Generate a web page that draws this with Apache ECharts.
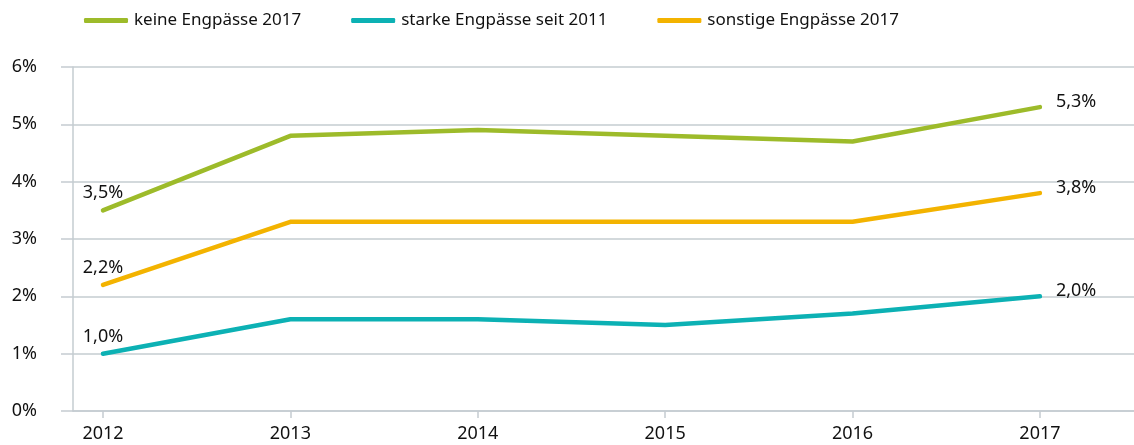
<!DOCTYPE html>
<html>
<head>
<meta charset="utf-8">
<script src="https://cdn.jsdelivr.net/npm/echarts@6/dist/echarts.min.js"></script>
<style>
  html, body { margin: 0; padding: 0; background: #fff; }
  #chart { width: 1134px; height: 445px; }
</style>
</head>
<body>
<div id="chart"></div>
<script>
var years = [2012, 2013, 2014, 2015, 2016, 2017];
var keine = [3.5, 4.8, 4.9, 4.8, 4.7, 5.3];
var starke = [1.0, 1.6, 1.6, 1.5, 1.7, 2.0];
var sonstige = [2.2, 3.3, 3.3, 3.3, 3.3, 3.8];
var seriesNames = ['keine Engpässe 2017', 'starke Engpässe seit 2011', 'sonstige Engpässe 2017'];
var colors = ['#9dbb2a', '#0cb1b4', '#f3b300'];

var font = 'Noto Sans';

function pairs(vals) {
    return vals.map(function (v, i) { return [years[i], v]; });
}

function fmt(v) {
    return v.toFixed(1).replace('.', ',') + '%';
}

function makeSeries(name, vals, color) {
    var data = pairs(vals).map(function (p, i) {
        var item = { value: p };
        if (i === 0) {
            item.label = { show: true, position: 'top', distance: 8 };
        } else if (i === vals.length - 1) {
            item.label = { show: true, position: 'right', distance: 16, offset: [0, -5] };
        }
        return item;
    });
    return {
        name: name,
        type: 'line',
        data: data,
        symbol: 'circle',
        symbolSize: 0,
        showAllSymbol: true,
        color: color,
        itemStyle: { color: color },
        lineStyle: { width: 4.5, color: color, cap: 'round' },
        label: {
            show: false,
            color: '#111',
            fontFamily: font,
            fontSize: 18,
            formatter: function (p) { return fmt(p.value[1]); }
        },
        emphasis: { disabled: true }
    };
}

var myChart = echarts.init(document.getElementById('chart'));
var option = {
    animation: false,
    legend: {
        top: 7,
        left: 79,
        itemWidth: 44,
        itemHeight: 5,
        itemGap: 50,
        icon: 'roundRect',
        textStyle: { fontFamily: font, fontSize: 17, color: '#111', padding: [0, 0, 0, 1] },
        data: seriesNames
    },
    grid: { left: 73, right: 0, top: 67, bottom: 34 },
    xAxis: {
        type: 'value',
        min: 2011.84,
        max: 2017.502,
        splitLine: { show: false },
        axisLine: { show: true, lineStyle: { color: '#c5ccd1', width: 1.5 } },
        axisTick: { show: true, length: 7, lineStyle: { color: '#c5ccd1', width: 1.5 }, customValues: years },
        axisLabel: {
            customValues: years,
            margin: 14,
            color: '#111',
            fontFamily: font,
            fontSize: 18,
            formatter: function (v) { return String(Math.round(v)); }
        }
    },
    yAxis: {
        type: 'value',
        min: 0,
        max: 6,
        interval: 1,
        axisLine: { show: true, lineStyle: { color: '#c5ccd1', width: 1.5 } },
        axisTick: { show: true, length: 12, lineStyle: { color: '#c5ccd1', width: 1.5 } },
        splitLine: { show: true, lineStyle: { color: '#c5ccd1', width: 1.5 } },
        axisLabel: {
            margin: 36,
            color: '#111',
            fontFamily: font,
            fontSize: 18,
            formatter: '{value}%'
        }
    },
    series: [
        makeSeries(seriesNames[0], keine, colors[0]),
        makeSeries(seriesNames[1], starke, colors[1]),
        makeSeries(seriesNames[2], sonstige, colors[2])
    ]
};
myChart.setOption(option);
</script>
</body>
</html>
